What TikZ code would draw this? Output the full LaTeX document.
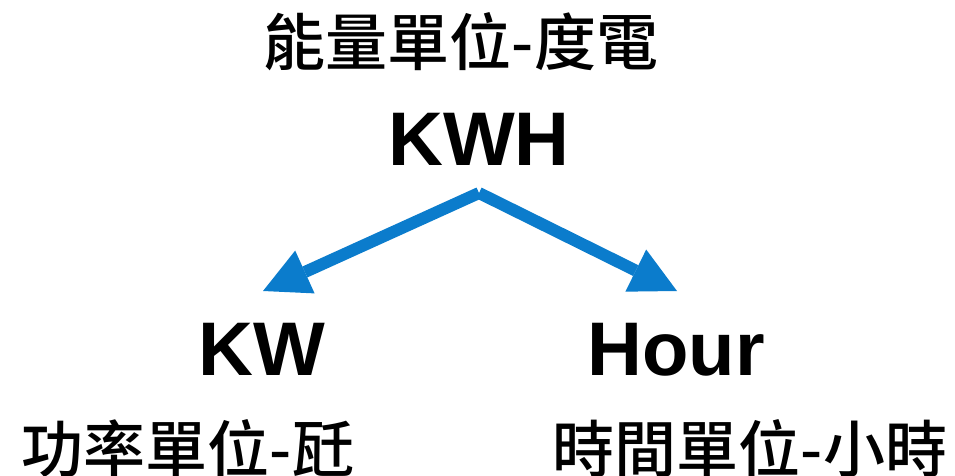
\documentclass[tikz,border=0pt]{standalone}
\usepackage{fontspec}
\setmainfont{Liberation Sans}
\newfontfamily\cjk{Noto Sans CJK TC Medium}
\usetikzlibrary{arrows.meta}
\definecolor{arrblue}{RGB}{11,124,204}
\tikzset{
  latin/.style={inner sep=0pt, anchor=base, font=\fontsize{76pt}{80pt}\selectfont\bfseries},
  cjklabel/.style={inner sep=0pt, anchor=base, font=\fontsize{62pt}{66pt}\selectfont\cjk},
  arr/.style={draw=arrblue, line width=12pt, -{Triangle[length=46pt,width=47pt,line width=0pt]}}
}
\begin{document}
\begin{tikzpicture}[x=1pt,y=-1pt]
\useasboundingbox (0,0) rectangle (955,476);
\node[cjklabel] (top) at (461,66) {能量單位-度電};
\node[latin] (kwh) at (479,165) {KWH};
\node[latin] (kw) at (262,375) {KW};
\node[latin] (hour) at (676,375) {Hour};
\node[cjklabel] (powr) at (188,472) {功率單位-瓩};
\node[cjklabel] (timu) at (750,472) {時間單位-小時};
\coordinate (srcl) at (479,193);
\coordinate (srcr) at (479,193);
\coordinate (tipl) at (263,291);
\coordinate (tipr) at (677,291);
\draw[arr] (srcl) -- (tipl);
\draw[arr] (srcr) -- (tipr);
\end{tikzpicture}
\end{document}
